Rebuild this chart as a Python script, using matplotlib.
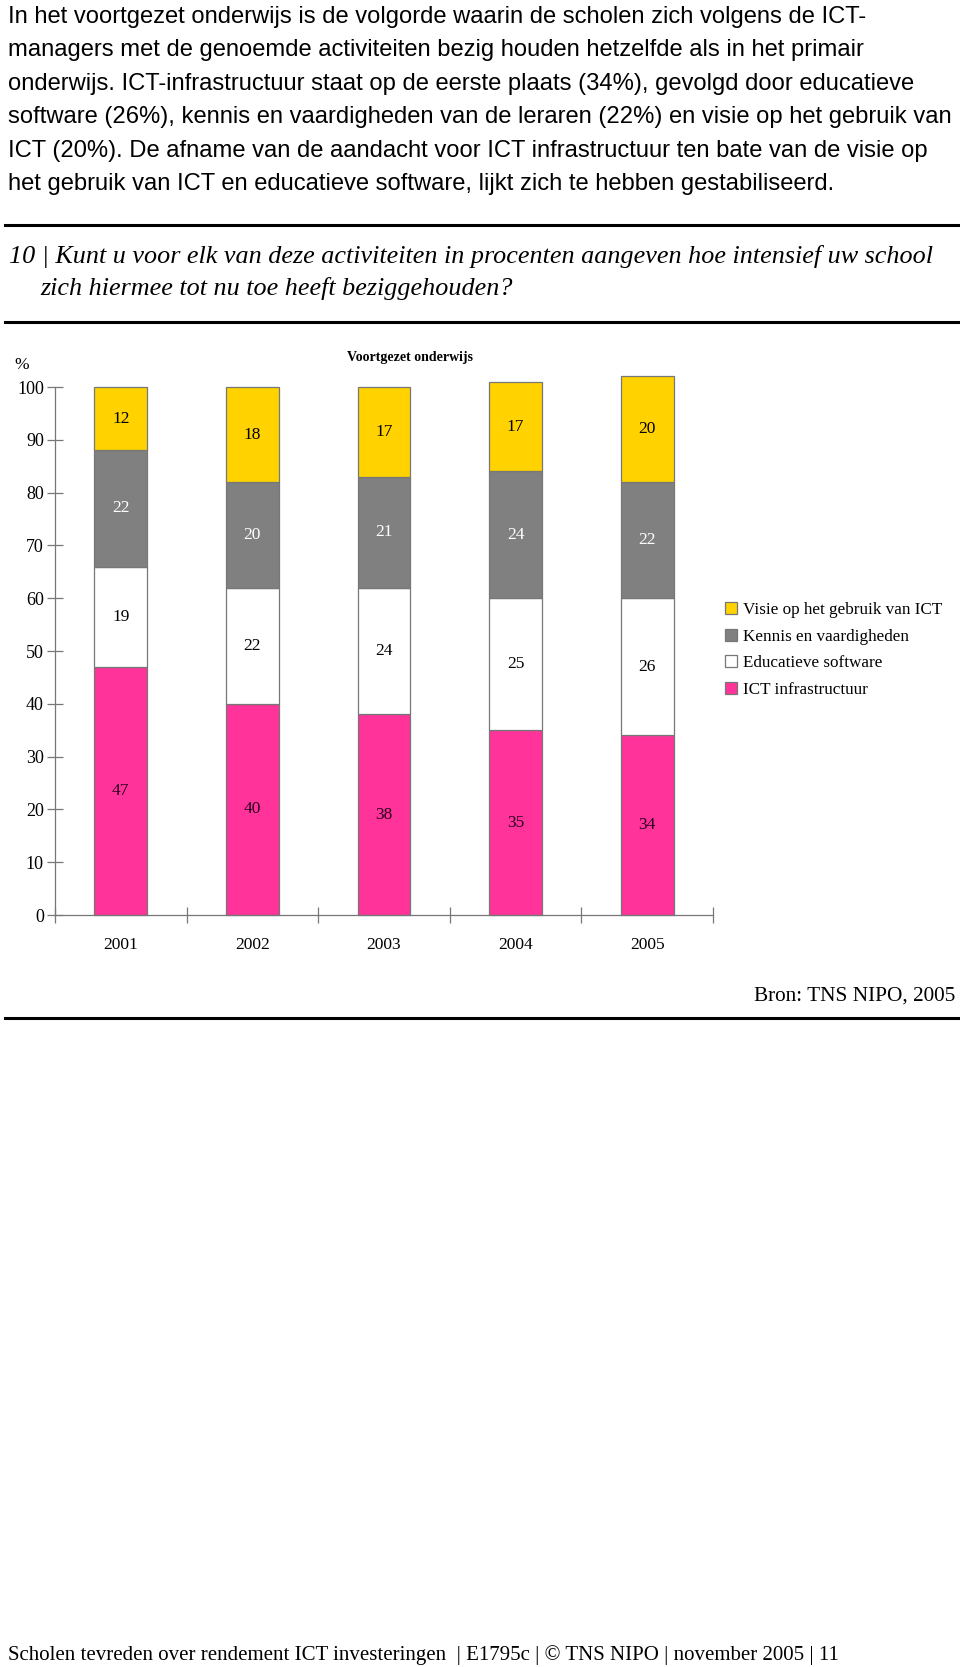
import matplotlib.pyplot as plt
import numpy as np
from matplotlib.lines import Line2D

W, H = 960, 1667

years = ['2001', '2002', '2003', '2004', '2005']
ict_infra = [47, 40, 38, 35, 34]
edu_software = [19, 22, 24, 25, 26]
kennis = [22, 20, 21, 24, 22]
visie = [12, 18, 17, 17, 20]

series_names = ['ICT infrastructuur', 'Educatieve software',
                'Kennis en vaardigheden', 'Visie op het gebruik van ICT']
series_colors = ['#FF3399', '#FFFFFF', '#808080', '#FFD200']
label_colors = ['#2a0020', 'black', 'white', 'black']

intro = [
    "In het voortgezet onderwijs is de volgorde waarin de scholen zich volgens de ICT-",
    "managers met de genoemde activiteiten bezig houden hetzelfde als in het primair",
    "onderwijs. ICT-infrastructuur staat op de eerste plaats (34%), gevolgd door educatieve",
    "software (26%), kennis en vaardigheden van de leraren (22%) en visie op het gebruik van",
    "ICT (20%). De afname van de aandacht voor ICT infrastructuur ten bate van de visie op",
    "het gebruik van ICT en educatieve software, lijkt zich te hebben gestabiliseerd.",
]


def fx(x):
    return x / W


def fy(y):
    return 1 - y / H


fig = plt.figure(figsize=(W / 100, H / 100), dpi=100)
fig.patch.set_facecolor('white')

# ---------------- intro paragraph ----------------
for i, line in enumerate(intro):
    fig.text(fx(8), fy(17 + 33.4 * i), line, family='Liberation Sans',
             fontsize=17.1, va='center', ha='left')

# rules + question
fig.add_artist(Line2D([fx(5), fx(960)], [fy(225), fy(225)], color='black', lw=2.2))
fig.add_artist(Line2D([fx(5), fx(960)], [fy(322), fy(322)], color='black', lw=2.2))
fig.text(fx(9), fy(257), "10 | Kunt u voor elk van deze activiteiten in procenten aangeven hoe intensief uw school",
         family='Liberation Serif', style='italic', fontsize=18.8, va='center')
fig.text(fx(40), fy(289), "zich hiermee tot nu toe heeft beziggehouden?",
         family='Liberation Serif', style='italic', fontsize=18.8, va='center')

# ---------------- chart ----------------
ax_left, ax_right, ax_bottom, ax_top = 55, 713, 915, 387
ax = fig.add_axes([fx(ax_left), fy(ax_bottom), fx(ax_right - ax_left), (ax_bottom - ax_top) / H])

x = np.arange(len(years)) + 0.5
data = [ict_infra, edu_software, kennis, visie]
bottom = np.zeros(len(years))
handles = []
for vals, name, col, lc in zip(data, series_names, series_colors, label_colors):
    vals = np.array(vals, dtype=float)
    b = ax.bar(x, vals, 0.4, bottom=bottom, color=col, edgecolor='#777777',
               linewidth=0.9, label=name, clip_on=False)
    handles.append(b)
    for xi, v, bo in zip(x, vals, bottom):
        ax.text(xi, bo + v / 2, f'{int(v)}', ha='center', va='center',
                family='Liberation Serif', fontsize=12.5, color=lc)
    bottom += vals

ax.set_xlim(0, 5)
ax.set_ylim(0, 100)
ax.set_yticks(range(0, 101, 10))
ax.set_xticks(range(0, 6))
ax.set_xticklabels([])
for s in ['top', 'right']:
    ax.spines[s].set_visible(False)
for s in ['left', 'bottom']:
    ax.spines[s].set_color('#777777')
    ax.spines[s].set_linewidth(0.9)
ax.tick_params(axis='both', direction='inout', length=12, width=0.9, color='#777777')
ax.tick_params(axis='y', labelsize=13, pad=2)
for lab in ax.get_yticklabels():
    lab.set_family('Liberation Serif')
for xi, yr in zip(x, years):
    ax.text(xi, -5.6, yr, ha='center', va='center', family='Liberation Serif',
            fontsize=12.5)

fig.text(fx(14), fy(365), '%', family='Liberation Serif', fontsize=12.5, va='center')
fig.text(fx(410), fy(358), 'Voortgezet onderwijs', family='Liberation Serif',
         fontsize=10, weight='bold', ha='center', va='center')

leg = fig.legend(handles[::-1], series_names[::-1], loc='upper left',
                 bbox_to_anchor=(fx(713), fy(590)), frameon=False,
                 prop={'family': 'Liberation Serif', 'size': 12.3},
                 handlelength=0.72, handleheight=0.72, handletextpad=0.35,
                 labelspacing=0.62, borderpad=0.2)

fig.text(fx(955), fy(996), 'Bron: TNS NIPO, 2005', family='Liberation Serif',
         fontsize=15.3, ha='right', va='center')
fig.add_artist(Line2D([fx(5), fx(960)], [fy(1018), fy(1018)], color='black', lw=2.2))

fig.text(fx(8), fy(1655), 'Scholen tevreden over rendement ICT investeringen  | E1795c | \u00a9 TNS NIPO | november 2005 | 11',
         family='Liberation Serif', fontsize=15.0, va='center')

fig.savefig('out.png', dpi=100)
